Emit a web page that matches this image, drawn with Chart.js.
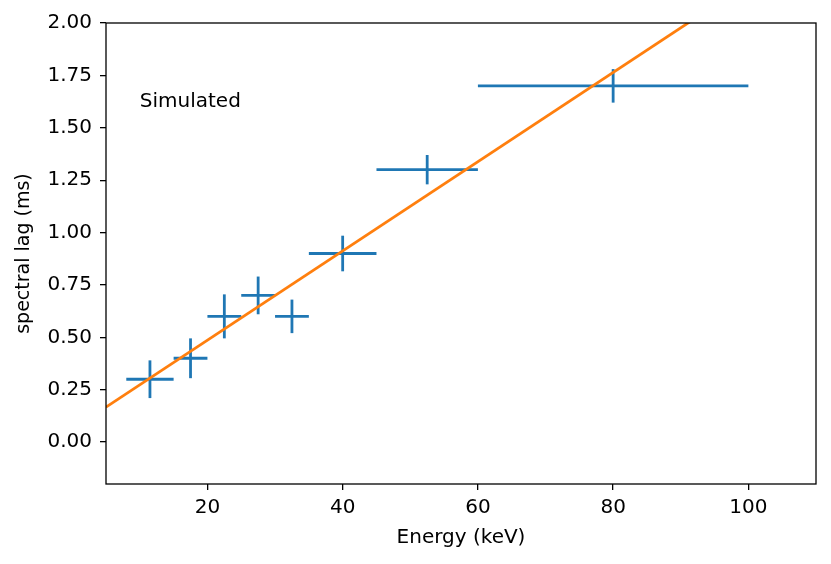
<!DOCTYPE html>
<html lang="en">
<head>
  <meta charset="UTF-8" />
  <title>Spectral lag vs energy</title>
  <script src="https://cdn.jsdelivr.net/npm/chart.js"></script>
  <style>
    html, body { margin: 0; padding: 0; background: #fff; }
    .wrap { width: 831px; height: 564px; position: relative; }
  </style>
</head>
<body>
  <div class="wrap"><canvas id="lagChart"></canvas></div>

  <script>
    // energy bins (keV)
    const energy   = [11.5, 17.5, 22.5, 27.5, 32.5, 40, 52.5, 80];
    const energyLo = [8, 15, 20, 25, 30, 35, 45, 60];
    const energyHi = [15, 20, 25, 30, 35, 45, 60, 100];
    // lag (ms) and its error
    const lag    = [0.30, 0.40, 0.60, 0.70, 0.60, 0.90, 1.30, 1.70];
    const lagErr = [0.09, 0.095, 0.105, 0.09, 0.08, 0.085, 0.07, 0.08];
    // linear fit
    const fitSlope = 0.0213;
    const fitIntercept = 0.06;
    const fitX = [5, 110];

    const xTicks = [20, 40, 60, 80, 100];
    const yTicks = [0, 0.25, 0.5, 0.75, 1.0, 1.25, 1.5, 1.75, 2.0];

    const FONT = "'DejaVu Sans', sans-serif";
    const blue = "#1f77b4";
    const orange = "#ff7f0e";

    const datasets = [];
    energy.forEach((e, i) => {
      // horizontal bar (bin width)
      datasets.push({
        data: [{ x: energyLo[i], y: lag[i] }, { x: energyHi[i], y: lag[i] }],
        borderColor: blue, borderWidth: 2.8, borderCapStyle: "butt",
        pointRadius: 0, order: 2
      });
      // vertical bar (lag error)
      datasets.push({
        data: [{ x: e, y: lag[i] - lagErr[i] }, { x: e, y: lag[i] + lagErr[i] }],
        borderColor: blue, borderWidth: 2.8, borderCapStyle: "butt",
        pointRadius: 0, order: 2
      });
    });

    datasets.push({
      data: fitX.map(x => ({ x: x, y: fitIntercept + fitSlope * x })),
      borderColor: orange, borderWidth: 2.8,
      pointRadius: 0, order: 0
    });

    // frame box + "Simulated" text
    const extras = {
      id: "extras",
      afterDatasetsDraw(chart) {
        const { ctx, chartArea: a, scales } = chart;
        ctx.save();
        ctx.strokeStyle = "#000";
        ctx.lineWidth = 1.3;
        ctx.strokeRect(a.left, a.top, a.right - a.left, a.bottom - a.top);
        ctx.fillStyle = "#000";
        ctx.font = "20px " + FONT;
        ctx.textAlign = "left";
        ctx.textBaseline = "alphabetic";
        ctx.fillText("Simulated", scales.x.getPixelForValue(10), scales.y.getPixelForValue(1.6));
        ctx.restore();
      }
    };

    new Chart(document.getElementById("lagChart"), {
      type: "line",
      data: { datasets: datasets },
      plugins: [extras],
      options: {
        responsive: true,
        maintainAspectRatio: false,
        animation: false,
        layout: { padding: { top: 23, right: 15, left: 0, bottom: 0 } },
        plugins: { legend: { display: false }, tooltip: { enabled: false } },
        scales: {
          x: {
            type: "linear",
            min: 5, max: 110,
            afterBuildTicks: s => { s.ticks = xTicks.map(v => ({ value: v })); },
            afterFit: s => { s.height = 80; },
            border: { display: false },
            grid: { drawOnChartArea: false, drawTicks: true, tickLength: 6, color: "#000", lineWidth: 1.3 },
            ticks: { color: "#000", font: { family: FONT, size: 20 }, padding: 6, maxRotation: 0 },
            title: { display: true, text: "Energy (keV)", color: "#000", font: { family: FONT, size: 20 }, padding: { top: 4, bottom: 14 } }
          },
          y: {
            type: "linear",
            min: -0.2, max: 2.0,
            afterBuildTicks: s => { s.ticks = yTicks.map(v => ({ value: v })); },
            afterFit: s => { s.width = 106; },
            border: { display: false },
            grid: { drawOnChartArea: false, drawTicks: true, tickLength: 6, color: "#000", lineWidth: 1.3 },
            ticks: { color: "#000", font: { family: FONT, size: 20 }, padding: 8, callback: v => Number(v).toFixed(2) },
            title: { display: true, text: "spectral lag (ms)", color: "#000", font: { family: FONT, size: 19 }, padding: { top: 13, bottom: 0 } }
          }
        }
      }
    });
  </script>
</body>
</html>
